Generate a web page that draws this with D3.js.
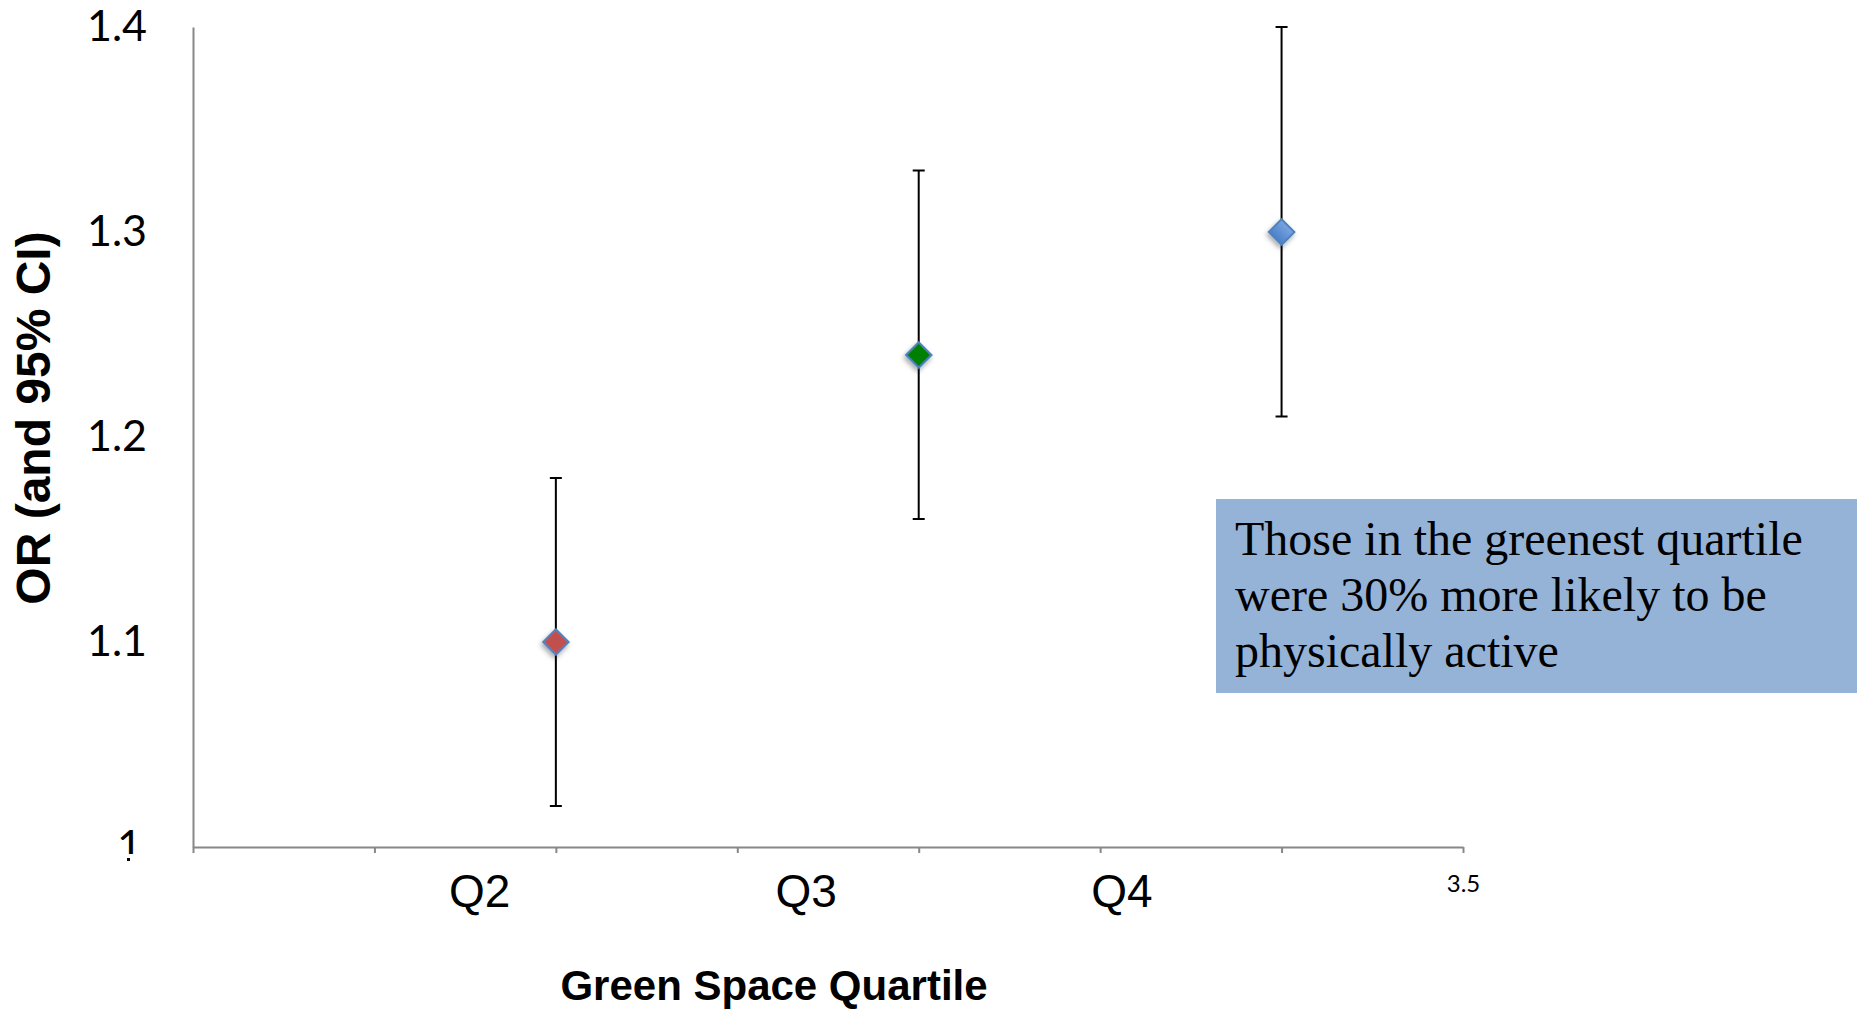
<!DOCTYPE html>
<html>
<head>
<meta charset="utf-8">
<script src="https://cdn.jsdelivr.net/npm/d3@7"></script>
<style>
  html, body { margin: 0; padding: 0; background: #fff; }
  svg { display: block; }
</style>
</head>
<body>
<main></main>
<script>
// values
const quartiles = ["Q2", "Q3", "Q4"];
const quartileX = [1, 2, 3];
const oddsRatio = [1.1, 1.24, 1.3];
const ciLow = [1.02, 1.16, 1.21];
const ciHigh = [1.18, 1.33, 1.4];
const markerFill = ["#c0504d", "#008000", "#4f81bd"];
const yTicks = [1, 1.1, 1.2, 1.3, 1.4];
const yTickLabels = ["1", "1.1", "1.2", "1.3", "1.4"];
const xTicks = [0, 0.5, 1, 1.5, 2, 2.5, 3, 3.5];
// where the slide's text boxes sit over the x axis (in axis units)
const quartileLabelX = [0.79, 1.69, 2.56];
const note = [
  "Those in the greenest quartile",
  "were 30% more likely to be",
  "physically active",
];

const width = 1857;
const height = 1009;
const root = document.querySelector("main");

const svg = d3.select(root).append("svg")
  .attr("width", width)
  .attr("height", height);

const defs = svg.append("defs");
const shadow = defs.append("filter").attr("id", "shadow")
  .attr("x", "-50%").attr("y", "-50%").attr("width", "200%").attr("height", "200%");
shadow.append("feDropShadow")
  .attr("dx", 1).attr("dy", 3).attr("stdDeviation", 2.5)
  .attr("flood-color", "#000").attr("flood-opacity", 0.35);

const grad = defs.append("linearGradient").attr("id", "blueFill")
  .attr("x1", 0).attr("y1", 0).attr("x2", 0).attr("y2", 1);
grad.append("stop").attr("offset", "0%").attr("stop-color", "#7aa6e0");
grad.append("stop").attr("offset", "100%").attr("stop-color", "#4a7fc8");

const x = d3.scaleLinear().domain([0, 3.5]).range([193, 1463]);
const y = d3.scaleLinear().domain([1, 1.4]).range([847, 27]);

// y axis
const yAxis = svg.append("g")
  .attr("transform", `translate(${x(0)},0)`)
  .call(d3.axisLeft(y).tickValues(yTicks).tickSize(0).tickPadding(46)
    .tickFormat((d, i) => yTickLabels[i]));
yAxis.select(".domain").attr("stroke", "#888").attr("stroke-width", 2);
yAxis.selectAll("text")
  .attr("font-family", "Lato, 'Open Sans', sans-serif")
  .attr("font-size", 43)
  .attr("fill", "#000")
  .attr("dx", (d) => (d === 1 ? -5 : 0));

// x axis
const xAxis = svg.append("g")
  .attr("transform", `translate(0,${y(1)})`)
  .call(d3.axisBottom(x).tickValues(xTicks).tickSize(6).tickSizeOuter(0).tickPadding(22)
    .tickFormat((d) => (d === 3.5 ? "3.5" : "")));
xAxis.select(".domain").attr("stroke", "#888").attr("stroke-width", 2);
xAxis.selectAll(".tick line").attr("stroke", "#888").attr("stroke-width", 2);
xAxis.selectAll("text")
  .attr("font-family", "Lato, 'Open Sans', sans-serif")
  .attr("font-size", 24)
  .attr("fill", "#000");

// the slide hides part of the "1" label, leaving a stray dot
svg.append("rect").attr("x", 100).attr("y", y(1) + 7).attr("width", 85).attr("height", 14).attr("fill", "#fff");
svg.append("rect").attr("x", 127).attr("y", y(1) + 11).attr("width", 3).attr("height", 3).attr("fill", "#000");

// error bars
const points = quartiles.map((q, i) => ({
  q, x: quartileX[i], or: oddsRatio[i], lo: ciLow[i], hi: ciHigh[i], fill: markerFill[i],
}));

const bars = svg.append("g").attr("class", "error-bars")
  .attr("stroke", "#000").attr("stroke-width", 2).attr("fill", "none");
bars.selectAll("line.whisker").data(points).join("line")
  .attr("class", "whisker")
  .attr("x1", (d) => x(d.x)).attr("x2", (d) => x(d.x))
  .attr("y1", (d) => y(d.lo)).attr("y2", (d) => y(d.hi));
bars.selectAll("line.cap-hi").data(points).join("line")
  .attr("class", "cap-hi")
  .attr("x1", (d) => x(d.x) - 6).attr("x2", (d) => x(d.x) + 6)
  .attr("y1", (d) => y(d.hi)).attr("y2", (d) => y(d.hi));
bars.selectAll("line.cap-lo").data(points).join("line")
  .attr("class", "cap-lo")
  .attr("x1", (d) => x(d.x) - 6).attr("x2", (d) => x(d.x) + 6)
  .attr("y1", (d) => y(d.lo)).attr("y2", (d) => y(d.lo));

// diamond markers
svg.append("g").attr("class", "markers")
  .selectAll("path").data(points).join("path")
  .attr("d", d3.symbol(d3.symbolSquare, 330)())
  .attr("transform", (d) => `translate(${x(d.x)},${y(d.or)}) rotate(45)`)
  .attr("fill", (d, i) => (i === 2 ? "url(#blueFill)" : d.fill))
  .attr("stroke", "#4f81bd")
  .attr("stroke-width", 2)
  .attr("filter", "url(#shadow)");

// quartile labels
svg.append("g").selectAll("text").data(quartiles).join("text")
  .attr("x", (d, i) => x(quartileLabelX[i]))
  .attr("y", 907)
  .attr("text-anchor", "middle")
  .attr("font-family", "'Liberation Sans', Arial, sans-serif")
  .attr("font-size", 46)
  .attr("fill", "#000")
  .text((d) => d);

// axis titles
svg.append("text")
  .attr("x", 774).attr("y", 1000)
  .attr("text-anchor", "middle")
  .attr("font-family", "'Liberation Sans', Arial, sans-serif")
  .attr("font-weight", "bold")
  .attr("font-size", 42)
  .text("Green Space Quartile");

svg.append("text")
  .attr("transform", "translate(50,418) rotate(-90)")
  .attr("text-anchor", "middle")
  .attr("font-family", "'Liberation Sans', Arial, sans-serif")
  .attr("font-weight", "bold")
  .attr("font-size", 48)
  .text("OR (and 95% CI)");

// note box
const box = svg.append("g").attr("transform", "translate(1216,499)");
box.append("rect").attr("width", width - 1216).attr("height", 194).attr("fill", "#95b3d7");
box.append("text")
  .attr("font-family", "'Liberation Serif', 'Times New Roman', serif")
  .attr("font-size", 48)
  .attr("fill", "#000")
  .selectAll("tspan").data(note).join("tspan")
  .attr("x", 19)
  .attr("y", (d, i) => 56 + i * 56)
  .text((d) => d);
</script>
</body>
</html>
